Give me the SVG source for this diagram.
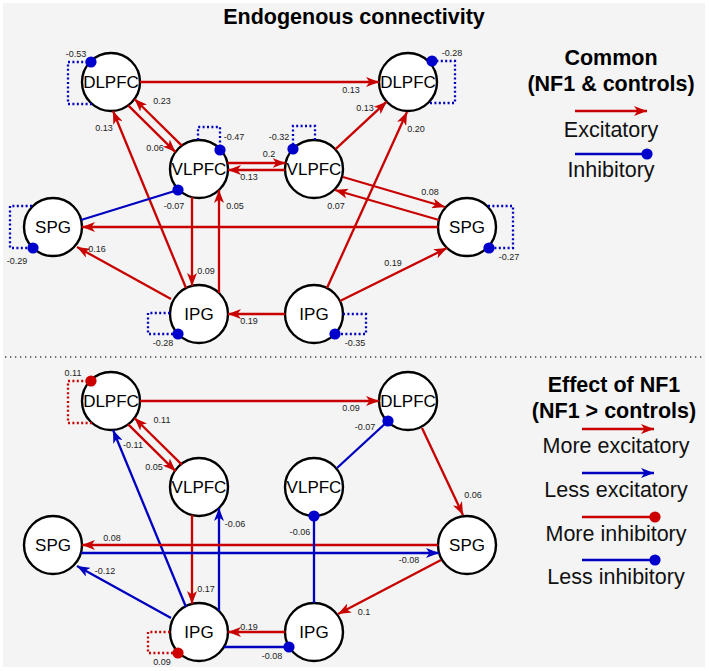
<svg xmlns="http://www.w3.org/2000/svg" width="709" height="671" viewBox="0 0 709 671">
<defs>
<style>
.bg{fill:#f4f4f4}
.node circle{fill:#fff;stroke:#000;stroke-width:2.4}
.node text{font-family:"Liberation Sans",Arial,sans-serif;font-size:17px;text-anchor:middle;fill:#000}
.e{fill:none;stroke-width:2.3}
.r{stroke:#c80000}
.b{stroke:#0000c0}
.dot{stroke-dasharray:2 2.4}
.ar{marker-end:url(#arR)}
.ab{marker-end:url(#arB)}
.br{marker-end:url(#beadR)}
.bb{marker-end:url(#beadB)}
.lbl{font-family:"Liberation Sans",Arial,sans-serif;font-size:9px;fill:#222;text-anchor:middle;dominant-baseline:central}
.h{font-family:"Liberation Sans",Arial,sans-serif;font-size:21.5px;font-weight:bold;text-anchor:middle;fill:#000}
.lg{font-family:"Liberation Sans",Arial,sans-serif;font-size:21.5px;text-anchor:middle;fill:#111}
</style>
<marker id="arR" markerUnits="userSpaceOnUse" markerWidth="13" markerHeight="10" refX="13" refY="5" orient="auto"><path d="M0,0 L13,5 L0,10 L3.5,5 Z" fill="#c80000"/></marker>
<marker id="arB" markerUnits="userSpaceOnUse" markerWidth="13" markerHeight="10" refX="13" refY="5" orient="auto"><path d="M0,0 L13,5 L0,10 L3.5,5 Z" fill="#0000c0"/></marker>
<marker id="beadR" markerUnits="userSpaceOnUse" markerWidth="12" markerHeight="12" refX="6" refY="6"><circle cx="6" cy="6" r="5.6" fill="#cc0000"/></marker>
<marker id="beadB" markerUnits="userSpaceOnUse" markerWidth="12" markerHeight="12" refX="6" refY="6"><circle cx="6" cy="6" r="5.6" fill="#0000cc"/></marker>
</defs>
<rect class="bg" x="3" y="3" width="702" height="664"/>
<line x1="5" y1="357" x2="705" y2="357" stroke="#444" stroke-width="1.3" stroke-dasharray="1.3 3.7"/>
<text class="h" x="354" y="24">Endogenous connectivity</text>

<g id="n-dlpfc-l-top" class="node"><circle cx="111" cy="82" r="29"/><text x="111" y="88">DLPFC</text></g>
<g id="n-dlpfc-r-top" class="node"><circle cx="408" cy="82" r="29"/><text x="408" y="88">DLPFC</text></g>
<g id="n-vlpfc-l-top" class="node"><circle cx="199" cy="169" r="29"/><text x="199" y="175">VLPFC</text></g>
<g id="n-vlpfc-r-top" class="node"><circle cx="314" cy="169" r="29"/><text x="314" y="175">VLPFC</text></g>
<g id="n-spg-l-top" class="node"><circle cx="53" cy="227" r="29"/><text x="53" y="233">SPG</text></g>
<g id="n-spg-r-top" class="node"><circle cx="467" cy="227" r="29"/><text x="467" y="233">SPG</text></g>
<g id="n-ipg-l-top" class="node"><circle cx="199" cy="314" r="29"/><text x="199" y="320">IPG</text></g>
<g id="n-ipg-r-top" class="node"><circle cx="314" cy="314" r="29"/><text x="314" y="320">IPG</text></g>

<g id="n-dlpfc-l-bot" class="node"><circle cx="111" cy="401" r="29"/><text x="111" y="407">DLPFC</text></g>
<g id="n-dlpfc-r-bot" class="node"><circle cx="408" cy="401" r="29"/><text x="408" y="407">DLPFC</text></g>
<g id="n-vlpfc-l-bot" class="node"><circle cx="199" cy="487" r="29"/><text x="199" y="493">VLPFC</text></g>
<g id="n-vlpfc-r-bot" class="node"><circle cx="314" cy="487" r="29"/><text x="314" y="493">VLPFC</text></g>
<g id="n-spg-l-bot" class="node"><circle cx="53" cy="545" r="29"/><text x="53" y="551">SPG</text></g>
<g id="n-spg-r-bot" class="node"><circle cx="467" cy="545" r="29"/><text x="467" y="551">SPG</text></g>
<g id="n-ipg-l-bot" class="node"><circle cx="199" cy="632" r="29"/><text x="199" y="638">IPG</text></g>
<g id="n-ipg-r-bot" class="node"><circle cx="314" cy="632" r="29"/><text x="314" y="638">IPG</text></g>

<g id="connectors">
<!-- top panel -->
<path class="e r ar" d="M140,82 L379,82"/>
<path class="e r ar" d="M181.8,145.6 L134.5,99"/>
<path class="e r ar" d="M128.2,105.4 L175.5,152.1"/>
<path class="e r ar" d="M227.4,163 L285.6,163"/>
<path class="e r ar" d="M285,170 L228,170"/>
<path class="e r ar" d="M335.3,149.3 L386.7,101.7"/>
<path class="e r ar" d="M327,288 L407,112"/>
<path class="e r ar" d="M186,288 L113,111"/>
<path class="e r ar" d="M343,177 L445,207"/>
<path class="e r ar" d="M439,220 L335,190"/>
<path class="e r ar" d="M438,227 L82,227"/>
<path class="e r ar" d="M340,301 L447,248"/>
<path class="e r ar" d="M285,314 L228,314"/>
<path class="e b bb" d="M81,220 L178,190"/>
<path class="e r ar" d="M192,197 L192,286"/>
<path class="e r ar" d="M219,293 L219,190"/>
<path class="e r ar" d="M171,299 L77,247"/>
<path class="e b dot bb" d="M92,104 L68,104 L68,62 L91,62"/>
<path class="e b dot bb" d="M198,140 L198,127 L220,127 L220,150"/>
<path class="e b dot bb" d="M315,140 L315,126 L293,126 L293,149"/>
<path class="e b dot bb" d="M430,103 L455,103 L455,61 L432,61"/>
<path class="e b dot bb" d="M488,206 L513,206 L513,248 L489,248"/>
<path class="e b dot bb" d="M343,314 L366,314 L366,334 L335,334"/>
<path class="e b dot bb" d="M170,313 L148,313 L148,334 L178,334"/>
<path class="e b dot bb" d="M32,206 L10,206 L10,248 L33,248"/>
<!-- bottom panel -->
<path class="e r ar" d="M140,401 L379,401"/>
<path class="e r dot br" d="M92,423 L68,423 L68,381 L91,381"/>
<path class="e r ar" d="M181.8,464.6 L134.5,418"/>
<path class="e r ar" d="M128.2,424.4 L175.5,471.1"/>
<path class="e b ab" d="M186,607 L113,430"/>
<path class="e b ab" d="M219,611 L219,508"/>
<path class="e r ar" d="M192,515 L192,604"/>
<path class="e r ar" d="M438,545 L82,545"/>
<path class="e b ab" d="M81,553 L439,553"/>
<path class="e b ab" d="M171,618 L77,566"/>
<path class="e r ar" d="M441,560 L338,614"/>
<path class="e r ar" d="M285,632 L228,632"/>
<path class="e b bb" d="M224,647 L289,647"/>
<path class="e r dot br" d="M170,632 L148,632 L148,653 L178,653"/>
<path class="e b bb" d="M314,603 L314,516"/>
<path class="e b bb" d="M337,468 L388,421"/>
<path class="e r ar" d="M422,428 L463,515"/>
</g>

<g id="edge-labels">
<text class="lbl" x="351" y="90">0.13</text>
<text class="lbl" x="162" y="101">0.23</text>
<text class="lbl" x="155" y="148">0.06</text>
<text class="lbl" x="76" y="54">-0.53</text>
<text class="lbl" x="234" y="137">-0.47</text>
<text class="lbl" x="279" y="137">-0.32</text>
<text class="lbl" x="269" y="154">0.2</text>
<text class="lbl" x="249" y="177">0.13</text>
<text class="lbl" x="452" y="53">-0.28</text>
<text class="lbl" x="365" y="108">0.13</text>
<text class="lbl" x="416" y="129">0.20</text>
<text class="lbl" x="430" y="192">0.08</text>
<text class="lbl" x="336" y="206">0.07</text>
<text class="lbl" x="509" y="257">-0.27</text>
<text class="lbl" x="393" y="263">0.19</text>
<text class="lbl" x="249" y="321">0.19</text>
<text class="lbl" x="355" y="343">-0.35</text>
<text class="lbl" x="163" y="343">-0.28</text>
<text class="lbl" x="17" y="261">-0.29</text>
<text class="lbl" x="174" y="206">-0.07</text>
<text class="lbl" x="206" y="271">0.09</text>
<text class="lbl" x="235" y="206">0.05</text>
<text class="lbl" x="97" y="249">0.16</text>
<text class="lbl" x="104" y="128">0.13</text>
<text class="lbl" x="351" y="408">0.09</text>
<text class="lbl" x="73" y="373">0.11</text>
<text class="lbl" x="162" y="420">0.11</text>
<text class="lbl" x="154" y="467">0.05</text>
<text class="lbl" x="133" y="445">-0.11</text>
<text class="lbl" x="235" y="524">-0.06</text>
<text class="lbl" x="206" y="589">0.17</text>
<text class="lbl" x="112" y="538">0.08</text>
<text class="lbl" x="409" y="560">-0.08</text>
<text class="lbl" x="105" y="571">-0.12</text>
<text class="lbl" x="364" y="612">0.1</text>
<text class="lbl" x="249" y="627">0.19</text>
<text class="lbl" x="272" y="656">-0.08</text>
<text class="lbl" x="162" y="662">0.09</text>
<text class="lbl" x="300" y="532">-0.06</text>
<text class="lbl" x="365" y="427">-0.07</text>
<text class="lbl" x="473" y="495">0.06</text>
</g>

<g id="legend-top">
<text class="h" x="611" y="65">Common</text>
<text class="h" x="611" y="91">(NF1 &amp; controls)</text>
<path class="e r ar" d="M575,111 L647,111"/>
<text class="lg" x="611" y="137">Excitatory</text>
<path class="e b bb" d="M575,154 L647,154"/>
<text class="lg" x="611" y="177">Inhibitory</text>
</g>
<g id="legend-bottom">
<text class="h" x="614" y="392">Effect of NF1</text>
<text class="h" x="614" y="418">(NF1 &gt; controls)</text>
<path class="e r ar" d="M582,429 L654,429"/>
<text class="lg" x="616" y="453">More excitatory</text>
<path class="e b ab" d="M582,473 L654,473"/>
<text class="lg" x="616" y="497">Less excitatory</text>
<path class="e r br" d="M582,517 L655,517"/>
<text class="lg" x="616" y="541">More inhibitory</text>
<path class="e b bb" d="M582,560 L655,560"/>
<text class="lg" x="616" y="584">Less inhibitory</text>
</g>
</svg>
